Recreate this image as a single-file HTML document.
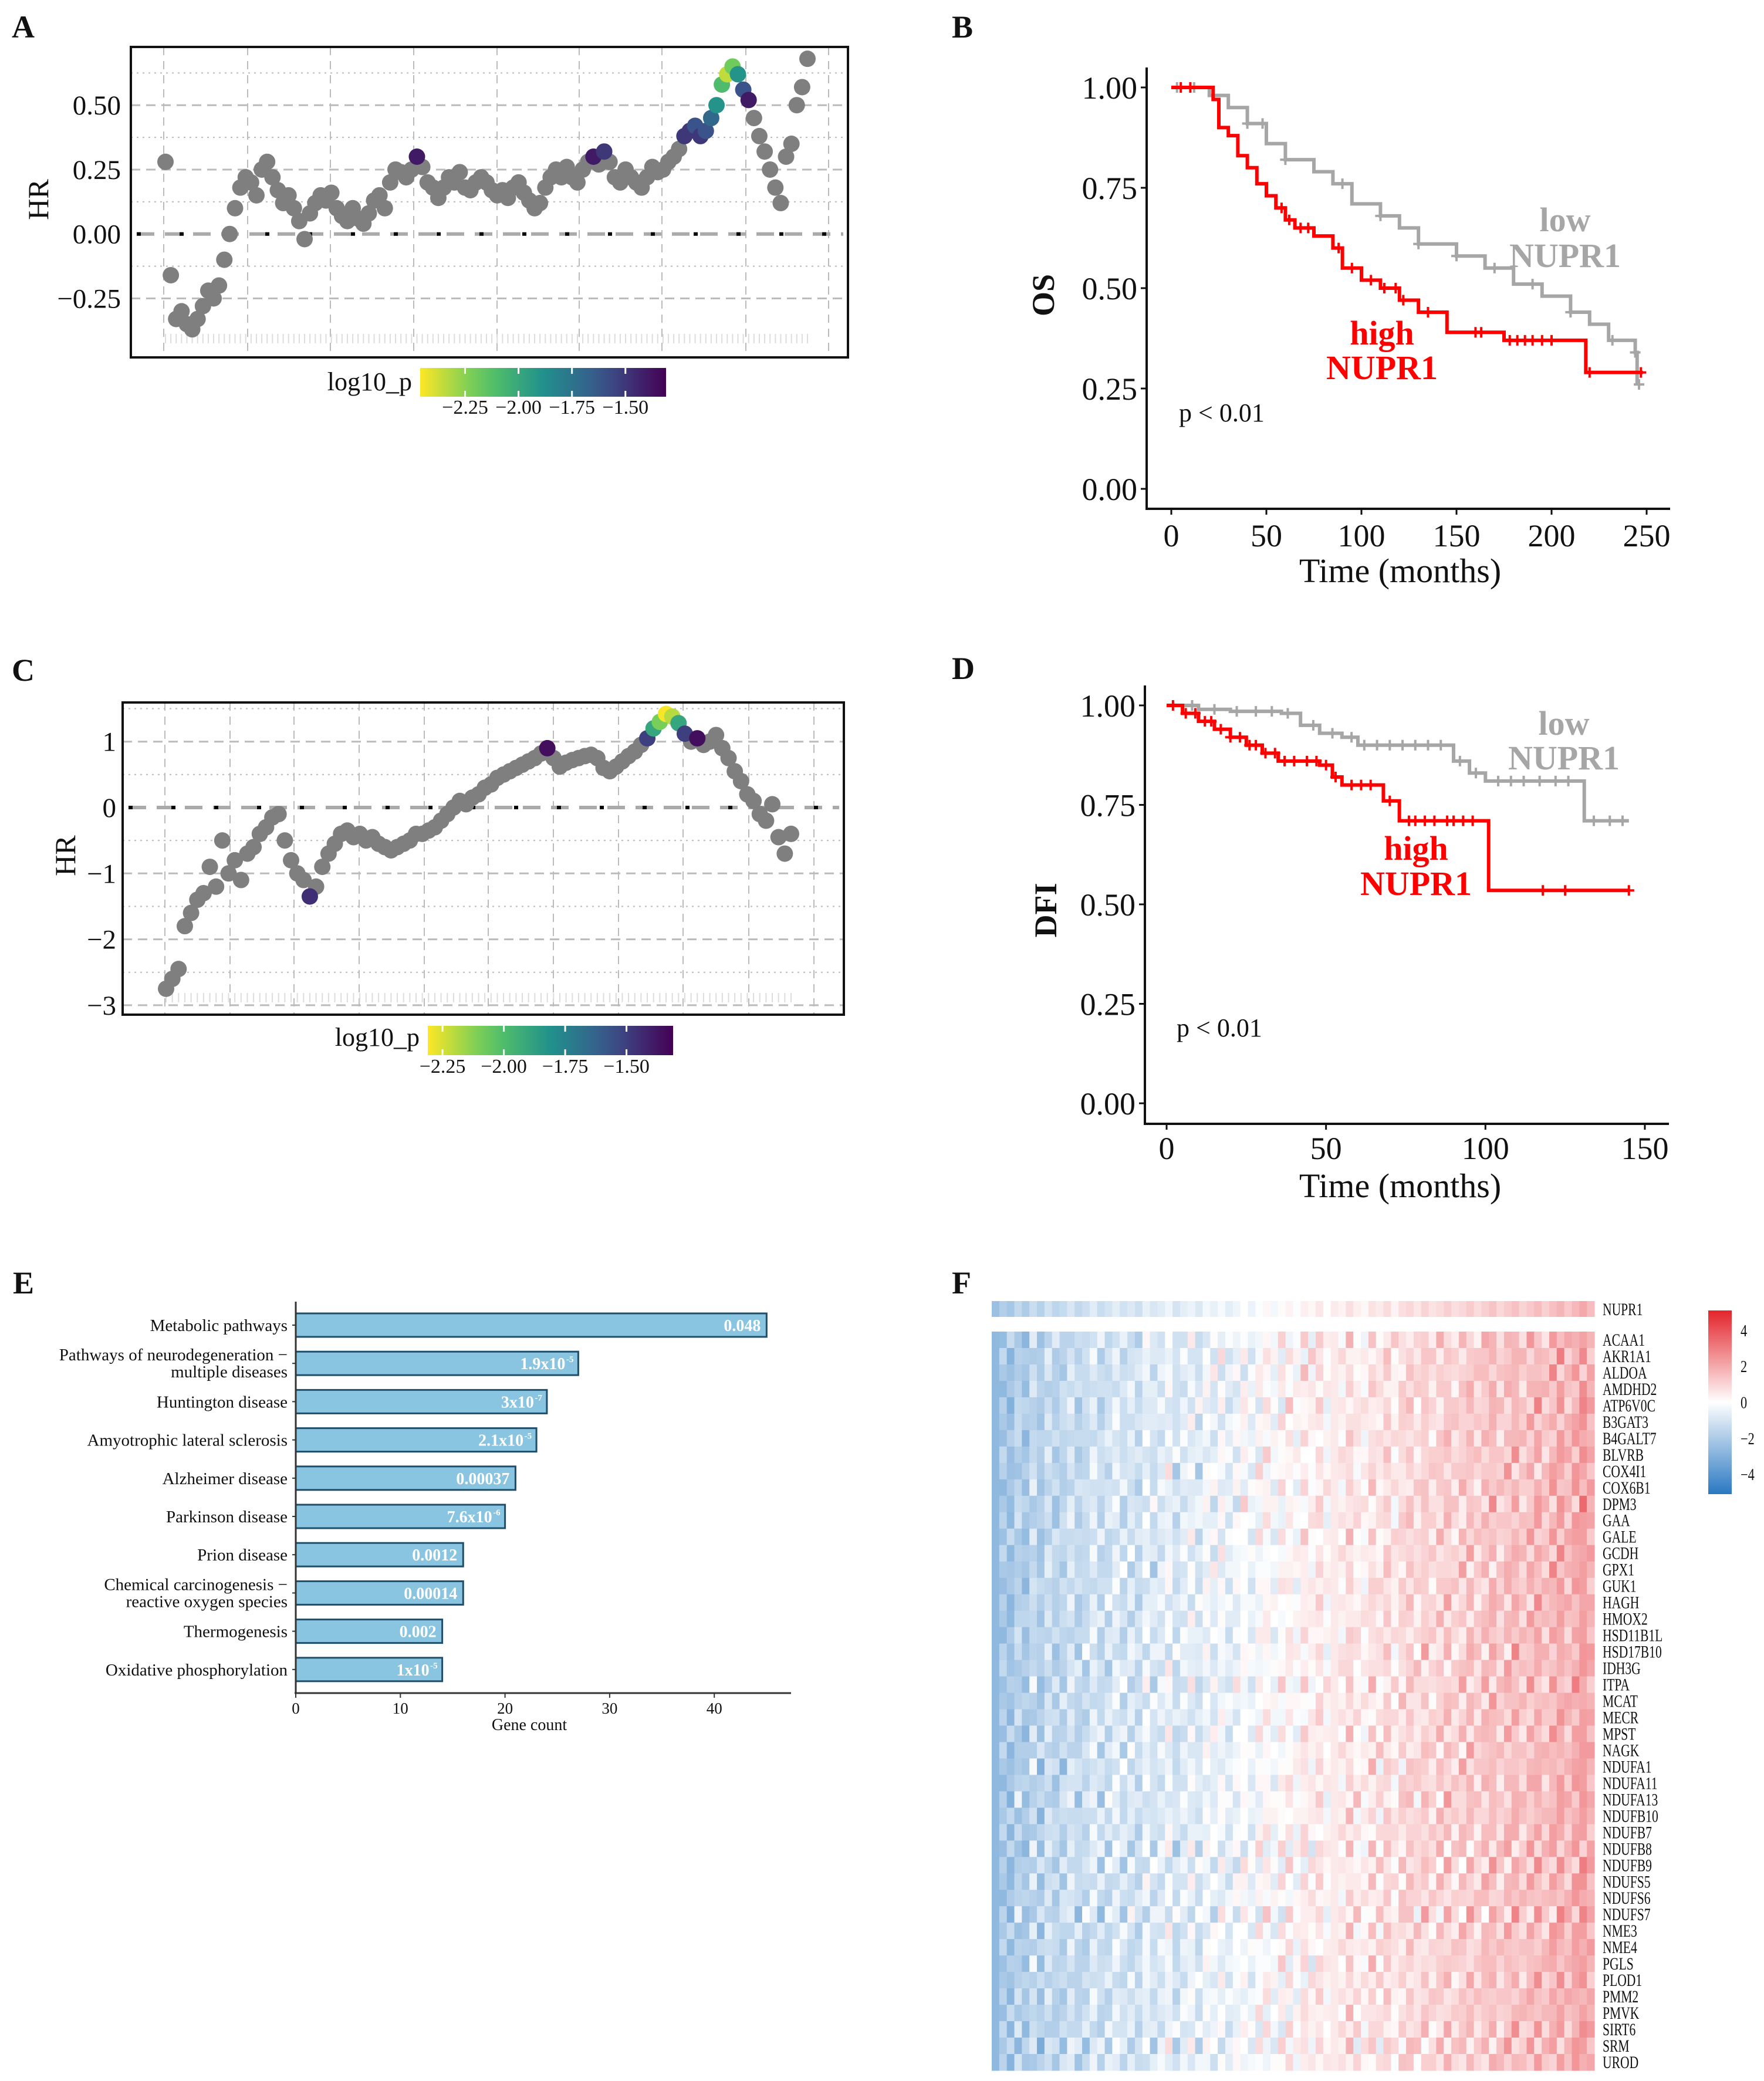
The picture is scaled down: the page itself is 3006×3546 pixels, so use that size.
<!DOCTYPE html>
<html><head><meta charset="utf-8"><style>
html,body{margin:0;padding:0;background:#fff;}
svg{display:block;}
text{font-family:"Liberation Serif",serif;}
</style></head><body>
<svg id="fig" width="3006" height="3546" viewBox="0 0 3006 3546" xmlns="http://www.w3.org/2000/svg"></svg>
<script>
// ---------- DATA ----------
const hrA = [0.28,-0.16,-0.33,-0.30,-0.35,-0.37,-0.33,-0.28,-0.22,-0.25,-0.20,-0.10,0.00,0.10,0.18,0.22,0.20,0.15,0.25,0.28,0.22,0.17,0.12,0.15,0.10,0.05,-0.02,0.08,0.12,0.15,0.13,0.16,0.10,0.07,0.05,0.10,0.06,0.04,0.08,0.13,0.15,0.10,0.20,0.25,0.24,0.22,0.25,0.30,0.26,0.20,0.18,0.14,0.18,0.22,0.20,0.24,0.18,0.17,0.20,0.22,0.20,0.17,0.15,0.17,0.14,0.18,0.20,0.16,0.13,0.10,0.12,0.18,0.22,0.25,0.22,0.26,0.22,0.20,0.25,0.28,0.30,0.27,0.32,0.28,0.22,0.20,0.25,0.22,0.20,0.18,0.22,0.26,0.24,0.25,0.28,0.30,0.33,0.38,0.40,0.42,0.38,0.40,0.45,0.50,0.58,0.62,0.65,0.62,0.56,0.52,0.45,0.38,0.32,0.25,0.18,0.12,0.30,0.35,0.50,0.57,0.68];
const sigIdxA = [47,80,82,97,98,99,100,101,102,103,104,105,106,107,108,109];
const sigPA =   [-1.4,-1.4,-1.5,-1.5,-1.5,-1.6,-1.5,-1.6,-1.7,-1.9,-2.1,-2.35,-2.2,-1.9,-1.6,-1.4];
const ticksA = [0.5,0.25,0,-0.25];
const tickLabA = ["0.50","0.25","0.00","\u22120.25"];

const hrC = [-2.75,-2.6,-2.45,-1.8,-1.6,-1.4,-1.3,-0.9,-1.2,-0.5,-1.0,-0.8,-1.1,-0.7,-0.6,-0.4,-0.3,-0.15,-0.1,-0.5,-0.8,-1.0,-1.1,-1.35,-1.2,-0.9,-0.7,-0.55,-0.4,-0.35,-0.45,-0.4,-0.5,-0.45,-0.55,-0.6,-0.65,-0.6,-0.55,-0.5,-0.4,-0.4,-0.35,-0.3,-0.2,-0.1,0.0,0.1,0.05,0.15,0.2,0.3,0.35,0.45,0.5,0.55,0.6,0.65,0.7,0.75,0.82,0.9,0.75,0.62,0.68,0.72,0.75,0.78,0.8,0.75,0.6,0.55,0.62,0.7,0.78,0.85,0.95,1.05,1.2,1.3,1.42,1.38,1.28,1.12,1.0,1.05,0.95,1.0,1.1,0.9,0.75,0.55,0.4,0.2,0.1,-0.1,-0.2,0.05,-0.45,-0.7,-0.4];
const sigIdxC = [23,61,77,78,79,80,81,82,83,85];
const sigPC =   [-1.45,-1.35,-1.5,-1.9,-2.1,-2.3,-2.2,-1.9,-1.5,-1.35];
const ticksC = [1,0,-1,-2,-3];
const tickLabC = ["1","0","\u22121","\u22122","\u22123"];
const cbTicks = [-2.25,-2.0,-1.75,-1.5];
const cbLabels = ["\u22122.25","\u22122.00","\u22121.75","\u22121.50"];

// KM OS (panel B)
const osHighT = [0,15,22,25,30,35,40,45,50,55,60,65,75,85,90,100,110,120,130,145,175,218,248];
const osHighS = [1,1,0.97,0.9,0.88,0.83,0.8,0.76,0.73,0.7,0.67,0.65,0.63,0.6,0.55,0.52,0.5,0.47,0.44,0.39,0.37,0.29,0.29];
const osLowT = [0,20,30,40,50,60,75,85,95,110,120,130,150,165,180,195,210,220,230,244,245];
const osLowS = [1,0.98,0.95,0.91,0.86,0.82,0.79,0.76,0.71,0.68,0.65,0.61,0.58,0.55,0.51,0.48,0.44,0.41,0.37,0.34,0.26];
const osHighCens = [5,10,58,62,68,72,88,95,105,112,118,122,135,160,163,178,182,186,190,195,200,220,247];
const osLowCens = [3,12,40,48,60,90,110,130,150,170,190,210,232,244,246];
const osXTicks = [0,50,100,150,200,250];
const survTicks = [0,0.25,0.5,0.75,1];
const survLabels = ["0.00","0.25","0.50","0.75","1.00"];

// KM DFI (panel D)
const dfHighT = [0,5,10,15,20,25,30,35,48,52,55,68,73,100,101,145];
const dfHighS = [1,0.98,0.96,0.94,0.92,0.9,0.88,0.86,0.85,0.82,0.8,0.76,0.71,0.71,0.535,0.535];
const dfLowT = [0,10,20,36,42,48,55,60,85,90,95,100,130,131,145];
const dfLowS = [1,0.99,0.985,0.98,0.95,0.93,0.92,0.9,0.9,0.86,0.83,0.81,0.81,0.71,0.71];
const dfHighCens = [2,6,9,12,14,17,20,23,26,28,31,34,37,40,44,47,50,53,58,61,64,70,76,78,81,84,88,90,93,96,118,125,145];
const dfLowCens = [8,15,22,28,33,38,46,52,58,62,66,70,74,78,82,86,92,97,104,108,112,117,122,126,134,139,143];
const dfXTicks = [0,50,100,150];

// Panel E
const pathways = [["Metabolic pathways"],["Pathways of neurodegeneration \u2212","multiple diseases"],["Huntington disease"],["Amyotrophic lateral sclerosis"],["Alzheimer disease"],["Parkinson disease"],["Prion disease"],["Chemical carcinogenesis \u2212","reactive oxygen species"],["Thermogenesis"],["Oxidative phosphorylation"]];
const geneCounts = [45,27,24,23,21,20,16,16,14,14];
const pBase = ["0.048","1.9x10","3x10","2.1x10","0.00037","7.6x10","0.0012","0.00014","0.002","1x10"];
const pExp = ["","-5","-7","-5","","-6","","","","-5"];
const eTicks = [0,10,20,30,40];

// Panel F
const genes = ["ACAA1","AKR1A1","ALDOA","AMDHD2","ATP6V0C","B3GAT3","B4GALT7","BLVRB","COX4I1","COX6B1","DPM3","GAA","GALE","GCDH","GPX1","GUK1","HAGH","HMOX2","HSD11B1L","HSD17B10","IDH3G","ITPA","MCAT","MECR","MPST","NAGK","NDUFA1","NDUFA11","NDUFA13","NDUFB10","NDUFB7","NDUFB8","NDUFB9","NDUFS5","NDUFS6","NDUFS7","NME3","NME4","PGLS","PLOD1","PMM2","PMVK","SIRT6","SRM","UROD"];
const colVals = [-2.6,-2.0,-2.3,-1.6,-2.1,-1.4,-1.9,-1.2,-1.7,-1.5,-1.0,-1.6,-1.3,-0.8,-1.4,-1.1,-0.7,-1.2,-0.9,-1.3,-0.6,-1.0,-0.8,-0.4,-1.1,-0.7,-0.5,-0.9,-0.3,-0.6,-0.2,-0.7,-0.4,0.0,-0.5,-0.1,0.2,-0.3,0.1,0.3,-0.1,0.4,0.2,0.6,0.0,0.5,0.3,0.8,0.4,0.2,0.7,0.5,0.9,0.3,0.8,1.0,0.6,1.1,0.7,0.9,1.2,0.8,1.0,1.3,0.9,1.2,1.5,1.0,1.3,1.6,1.1,1.4,1.7,1.2,1.6,1.9,1.4,1.8,2.2,1.7];
const rowShift = [0.4,-0.5,0.6,0.0,-0.6,0.3,0.0,-0.4,0.6,0.3,-0.6,0.0,0.4,-0.3,0.6,0.0,-0.4,0.3,0.0,-0.6,0.4,0.6,-0.3,0.0,0.4,-0.4,0.6,0.0,-0.6,0.3,0.0,0.6,-0.4,0.3,0.0,-0.6,0.4,0.0,0.6,-0.3,0.0,0.4,-0.4,0.6,0.0];
const heatTicks = [4,2,0,-2,-4];

// ---------- HELPERS ----------
const NS="http://www.w3.org/2000/svg";
const svg=document.getElementById('fig');
function el(tag,attrs,parent){const e=document.createElementNS(NS,tag);for(const k in attrs)e.setAttribute(k,attrs[k]);(parent||svg).appendChild(e);return e;}
function txt(x,y,s,size,anchor,opts){opts=opts||{};const sx=opts.sx||1;
  const g=el('text',{transform:`translate(${x},${y}) ${opts.rot?'rotate(-90)':''} scale(${sx},1)`,'font-size':size,'text-anchor':anchor||'start',fill:opts.fill||'#111','font-weight':opts.bold?'bold':'normal'},opts.parent);
  g.textContent=s;return g;}
function lerp(a,b,t){return a+(b-a)*t;}
function hex(c){return [parseInt(c.slice(1,3),16),parseInt(c.slice(3,5),16),parseInt(c.slice(5,7),16)];}
const vir=["#440154","#3b528b","#21918c","#5ec962","#fde725"].map(hex);
function viridis(t){t=Math.max(0,Math.min(1,t));const s=t*4,i=Math.min(3,Math.floor(s)),f=s-i;const a=vir[i],b=vir[i+1];return `rgb(${Math.round(lerp(a[0],b[0],f))},${Math.round(lerp(a[1],b[1],f))},${Math.round(lerp(a[2],b[2],f))})`;}

// ---------- SCATTER PANELS ----------
function hrPanel(o){
  const g=el('g',{});
  
  
  const L=txt(20,o.letterY,o.letter,54,'start',{bold:true,parent:g});
  
  
  const ys=v=>o.y0-v*o.unit;
  o.minor.forEach(v=>el('line',{x1:o.bx0,x2:o.bx1,y1:ys(v),y2:ys(v),stroke:'#bbb','stroke-width':2,'stroke-dasharray':'3 7'},g));
  o.ticks.forEach(v=>{if(v!==0)el('line',{x1:o.bx0,x2:o.bx1,y1:ys(v),y2:ys(v),stroke:'#bbb','stroke-width':3,'stroke-dasharray':'16 10'},g);});
  o.vgrid.forEach(x=>el('line',{x1:x,x2:x,y1:o.by0,y2:o.by1,stroke:'#bbb','stroke-width':2,'stroke-dasharray':'14 10'},g));
  const n=o.data.length;const xs=i=>o.px0+(o.px1-o.px0)*i/(n-1);
  o.data.forEach((v,i)=>{el('line',{x1:xs(i),x2:xs(i),y1:o.rugY-8,y2:o.rugY+8,stroke:'#ddd','stroke-width':2},g);});
  el('line',{x1:o.bx0+10,x2:o.bx1-8,y1:ys(0),y2:ys(0),stroke:'#aaa','stroke-width':6,'stroke-dasharray':'30 18'},g);
  el('line',{x1:o.bx0+10,x2:o.bx1-8,y1:ys(0),y2:ys(0),stroke:'#000','stroke-width':6,'stroke-dasharray':'7 66'},g);
  const pmap={};o.sigIdx.forEach((k,j)=>pmap[k]=o.sigP[j]);
  o.data.forEach((v,i)=>{if(pmap[i]===undefined){const c=el('circle',{cx:xs(i),cy:ys(v),r:14,fill:'#7f7f7f'},g);}});
  o.data.forEach((v,i)=>{if(pmap[i]!==undefined){const c=el('circle',{cx:xs(i),cy:ys(v),r:14,fill:viridis((o.cbMax-pmap[i])/(o.cbMax-o.cbMin))},g);}});
  const box=el('rect',{x:o.bx0,y:o.by0,width:o.bx1-o.bx0,height:o.by1-o.by0,fill:'none',stroke:'#111','stroke-width':4},g);
  
  
  o.ticks.forEach((v,i)=>{const t=txt(o.tickX,ys(v)+16,o.tickLab[i],47,'end',{parent:g});});
  const yt=txt(o.hrX,o.hrY,'HR',50,'middle',{rot:true,parent:g});
  
  
  const gid='vg'+o.letter;
  const defs=el('defs',{},g);const lg=el('linearGradient',{id:gid,x1:0,x2:1,y1:0,y2:0},defs);
  for(let k=0;k<=10;k++)el('stop',{offset:k/10,'stop-color':viridis(1-k/10)},lg);
  const cb=el('rect',{x:o.cbx0,y:o.cby0,width:o.cbx1-o.cbx0,height:o.cby1-o.cby0,fill:`url(#${gid})`},g);
  
  
  const cx=p=>o.cbx0+(p-o.cbMin)/(o.cbMax-o.cbMin)*(o.cbx1-o.cbx0);
  cbTicks.forEach((p,i)=>{el('line',{x1:cx(p),x2:cx(p),y1:o.cby0,y2:o.cby0+10,stroke:'#fff','stroke-width':3},g);el('line',{x1:cx(p),x2:cx(p),y1:o.cby1-10,y2:o.cby1,stroke:'#fff','stroke-width':3},g);
    const t=txt(cx(p),o.cbLabY,cbLabels[i],34,'middle',{parent:g});});
  const lt=txt(o.cbx0-14,o.logY,'log10_p',44,'end',{parent:g});
  
  
}
hrPanel({name:'panel-a-hr-scatter',letter:'A',letterY:64,data:hrA,sigIdx:sigIdxA,sigP:sigPA,ticks:ticksA,tickLab:tickLabA,minor:[0.625,0.375,0.125,-0.125],
  y0:398.7,unit:439,bx0:223,bx1:1445,by0:80,by1:609,px0:282,px1:1376,rugY:577,
  vgrid:[279,422,563,705,847,987,1128,1271,1412],tickX:206,hrX:82,hrY:340,
  cbx0:716,cbx1:1135,cby0:627,cby1:676,cbLabY:705,logY:665,cbMin:-2.46,cbMax:-1.31});
hrPanel({name:'panel-c-hr-scatter',letter:'C',letterY:1160,data:hrC,sigIdx:sigIdxC,sigP:sigPC,ticks:ticksC,tickLab:tickLabC,minor:[1.5,0.5,-0.5,-1.5,-2.5],
  y0:1376,unit:112.3,bx0:209,bx1:1438,by0:1197,by1:1729,px0:283,px1:1348,rugY:1700,
  vgrid:[281,392,501,612,723,832,943,1054,1164,1276,1387],tickX:198,hrX:128,hrY:1458,
  cbx0:729,cbx1:1147,cby0:1748,cby1:1798,cbLabY:1828,logY:1782,cbMin:-2.31,cbMax:-1.31});

// ---------- KM PANELS ----------
function kmPanel(o){
  const g=el('g',{});
  
  
  const L=txt(1622,o.letterY,o.letter,54,'start',{bold:true,parent:g});
  
  
  const xs=t=>o.x0+t*o.xu, ys=s=>o.y0-s*o.yu;
  function step(T,S){let d=`M${xs(T[0])},${ys(S[0])}`;for(let i=1;i<T.length;i++){d+=` H${xs(T[i])} V${ys(S[i])}`;}return d;}
  function sAt(T,S,t){let s=S[0];for(let i=0;i<T.length;i++){if(T[i]<=t)s=S[i];}return s;}
  [[o.lowT,o.lowS,o.lowC,'#a6a6a6','km-curve-low'],[o.highT,o.highS,o.highC,'#ff0000','km-curve-high']].forEach(([T,S,C,col,nm])=>{
    const p=el('path',{d:step(T,S),fill:'none',stroke:col,'stroke-width':6},g);
    
    
    C.forEach(t=>{const x=xs(t),y=ys(sAt(T,S,t));el('path',{d:`M${x-9},${y}H${x+9}M${x},${y-9}V${y+9}`,stroke:col,'stroke-width':4},g);});
  });
  el('line',{x1:o.axX,x2:o.axX,y1:o.axTop,y2:o.axY+2,stroke:'#111','stroke-width':4},g);
  el('line',{x1:o.axX-2,x2:o.axRight,y1:o.axY,y2:o.axY,stroke:'#111','stroke-width':4},g);
  survTicks.forEach((s,i)=>{el('line',{x1:o.axX-10,x2:o.axX,y1:ys(s),y2:ys(s),stroke:'#111','stroke-width':3},g);
    const t=txt(o.axX-16,ys(s)+19,survLabels[i],54,'end',{parent:g});});
  o.xTicks.forEach(v=>{el('line',{x1:xs(v),x2:xs(v),y1:o.axY,y2:o.axY+10,stroke:'#111','stroke-width':3},g);
    const t=txt(xs(v),o.xTickY,String(v),54,'middle',{parent:g});});
  const xt=txt(2386,o.titleY,'Time (months)',58,'middle',{parent:g});
  
  
  const yt=txt(o.yTitleX,o.yTitleY,o.yTitle,54,'middle',{rot:true,bold:true,parent:g});
  
  
  [['low',o.lowLab[0],o.lowLab[1],o.lowLab[2],'#a6a6a6','label-low-nupr1'],['high',o.highLab[0],o.highLab[1],o.highLab[2],'#ff0000','label-high-nupr1']].forEach(([w,x,y,y2,c,nm])=>{
    const a=txt(x,y,w,58,'middle',{bold:true,fill:c,parent:g});
    const b=txt(x,y2,'NUPR1',58,'middle',{bold:true,fill:c,parent:g});});
  const pv=txt(o.pLab[0],o.pLab[1],'p < 0.01',44,'start',{parent:g});
  
  
}
kmPanel({name:'panel-b-os-km',letter:'B',letterY:64,x0:1996,xu:3.24,y0:833,yu:684,axX:1954,axY:867,axTop:115,axRight:2846,
  highT:osHighT,highS:osHighS,lowT:osLowT,lowS:osLowS,highC:osHighCens,lowC:osLowCens,xTicks:osXTicks,xTickY:931,titleY:992,
  yTitle:'OS',yTitleX:1796,yTitleY:503,lowLab:[2667,394,455],highLab:[2355,587,646],pLab:[2009,718]});
kmPanel({name:'panel-d-dfi-km',letter:'D',letterY:1157,x0:1988,xu:5.433,y0:1880,yu:678,axX:1951,axY:1915,axTop:1168,axRight:2844,
  highT:dfHighT,highS:dfHighS,lowT:dfLowT,lowS:dfLowS,highC:dfHighCens,lowC:dfLowCens,xTicks:dfXTicks,xTickY:1975,titleY:2040,
  yTitle:'DFI',yTitleX:1800,yTitleY:1551,lowLab:[2665,1252,1311],highLab:[2413,1465,1525],pLab:[2005,1766]});

// ---------- PANEL E ----------
(function(){
  const g=el('g',{});
  
  
  const L=txt(22,2204,'E',54,'start',{bold:true,parent:g});
  
  
  const x0=504,xu=17.83,top0=2238,step=65.2,bh=40;
  const xs=v=>x0+v*xu;
  geneCounts.forEach((v,i)=>{
    const y=top0+i*step;
    const r=el('rect',{x:x0,y:y,width:xs(v)-x0,height:bh,fill:'#89c4e1',stroke:'#1f4e6b','stroke-width':3},g);
    
    
    const t=txt(xs(v)-10-(pExp[i]?12:0),y+bh/2+10,pBase[i],28,'end',{bold:true,fill:'#fff',parent:g});
    
    
    if(pExp[i]){const s=txt(xs(v)-8,y+bh/2-2,pExp[i],15,'end',{bold:true,fill:'#fff',parent:g});}
    el('line',{x1:x0-6,x2:x0,y1:y+bh/2,y2:y+bh/2,stroke:'#333','stroke-width':2},g);
    const lines=pathways[i];
    lines.forEach((ln,k)=>{const ty=lines.length===1?y+bh/2+10:y+bh/2-5+k*29;
      const c=txt(490,ty,ln,29,'end',{parent:g});});
  });
  el('line',{x1:x0,x2:x0,y1:2218,y2:2886,stroke:'#333','stroke-width':3},g);
  el('line',{x1:x0-2,x2:1348,y1:2885,y2:2885,stroke:'#333','stroke-width':3},g);
  eTicks.forEach(v=>{el('line',{x1:xs(v),x2:xs(v),y1:2885,y2:2893,stroke:'#333','stroke-width':2},g);
    const t=txt(xs(v),2920,String(v),27,'middle',{parent:g});});
  const xt=txt(902,2948,'Gene count',28,'middle',{parent:g});
  
  
})();

// ---------- PANEL F ----------
(function(){
  const g=el('g',{});
  
  
  const L=txt(1622,2204,'F',54,'start',{bold:true,parent:g});
  
  
  const hx0=1690,hx1=2717,hy0=2269,hy1=3528;
  const blue=hex('#2a78c2'),red=hex('#e3242b');
  function col(v){v=Math.max(-5,Math.min(5,v));const t=Math.abs(v)/5;const c=v<0?blue:red;
    return `rgb(${Math.round(lerp(255,c[0],t))},${Math.round(lerp(255,c[1],t))},${Math.round(lerp(255,c[2],t))})`;}
  const nc=colVals.length,nr=genes.length,cw=(hx1-hx0)/nc,rh=(hy1-hy0)/nr;
  colVals.forEach((v,c)=>{el('rect',{x:hx0+c*cw,y:2217,width:cw+0.6,height:27,fill:col(v*0.9)},g);});
  const na=txt(2731,2241,'NUPR1',30,'start',{parent:g,sx:0.72});
  
  
  genes.forEach((gn,r)=>{
    colVals.forEach((v,c)=>{el('rect',{x:hx0+c*cw,y:hy0+r*rh,width:cw+0.6,height:rh+0.6,fill:col(v+rowShift[r]*(c%3-1)+rowShift[(r+c)%nr])},g);});
    const t=txt(2731,hy0+r*rh+rh/2+10,gn,30,'start',{parent:g,sx:0.72});
    
    
  });
  const defs=el('defs',{},g);const lg=el('linearGradient',{id:'hmg',x1:0,x2:0,y1:0,y2:1},defs);
  [5,2.5,0,-2.5,-5].forEach((v,k)=>el('stop',{offset:k/4,'stop-color':col(v)},lg));
  const lr=el('rect',{x:2911,y:2233,width:40,height:313,fill:'url(#hmg)'},g);
  
  
  const ly=v=>2233+(5.1-v)/10.2*313;
  heatTicks.forEach(v=>{const t=txt(2966,ly(v)+10,(v<0?'\u2212':'')+Math.abs(v),28,'start',{parent:g,sx:0.8});});
})();
</script>
</body></html>
